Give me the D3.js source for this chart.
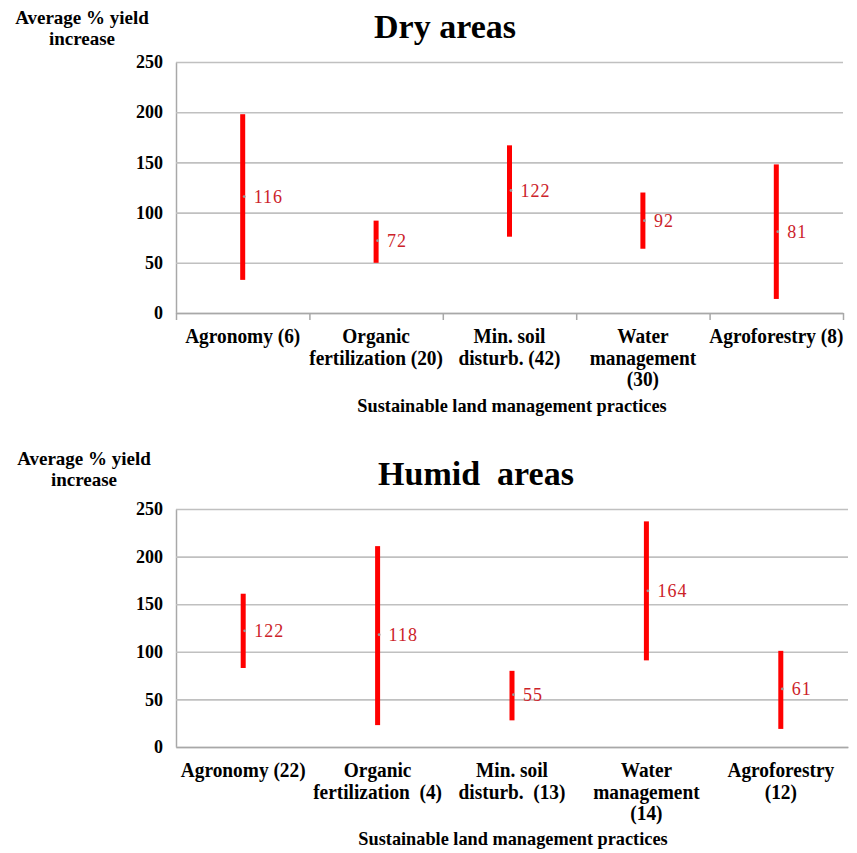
<!DOCTYPE html>
<html>
<head>
<meta charset="utf-8">
<script src="https://cdn.jsdelivr.net/npm/d3@7"></script>
<style>
  html, body { margin: 0; padding: 0; background: #ffffff; }
  svg { display: block; }
  text { font-family: "Liberation Serif", "Times New Roman", serif; }
</style>
</head>
<body>
<svg id="chart" width="857" height="853"></svg>
<script>
// ---- Data ----
const dryCategories = [
  ["Agronomy (6)"],
  ["Organic", "fertilization (20)"],
  ["Min. soil", "disturb. (42)"],
  ["Water", "management", "(30)"],
  ["Agroforestry (8)"]
];
const dryLow  = [33, 50, 76, 64, 14];
const dryHigh = [198, 92, 167, 120, 148];
const dryMean = [116, 72, 122, 92, 81];

const humidCategories = [
  ["Agronomy (22)"],
  ["Organic", "fertilization  (4)"],
  ["Min. soil", "disturb.  (13)"],
  ["Water", "management", "(14)"],
  ["Agroforestry", "(12)"]
];
const humidLow  = [83, 23, 28, 91, 19];
const humidHigh = [161, 211, 80, 237, 101];
const humidMean = [122, 118, 55, 164, 61];

const yTicks = [0, 50, 100, 150, 200, 250];
const yTitleLines = ["Average % yield", "increase"];
const xTitle = "Sustainable land management practices";

// ---- Drawing ----
const svg = d3.select("#chart");

function drawPanel(opt) {
  const g = svg.append("g");
  const n = opt.categories.length;
  const x = d3.scaleBand().domain(d3.range(n)).range([opt.left, opt.right]).padding(0);
  const xb = d3.scaleLinear().domain([0, n]).range([opt.left, opt.right]);
  const y = d3.scaleLinear().domain([0, 250]).range([opt.bottom, opt.top]);

  // title
  g.append("text")
    .attr("x", opt.titleX).attr("y", opt.titleY)
    .attr("text-anchor", "middle")
    .attr("font-size", 34).attr("font-weight", "bold")
    .style("white-space", "pre")
    .attr("xml:space", "preserve")
    .text(opt.title);

  // y title
  g.append("g").selectAll("text").data(yTitleLines).join("text")
    .attr("x", opt.yTitleX)
    .attr("y", (d, i) => opt.yTitleY + i * 21)
    .attr("text-anchor", "middle")
    .attr("font-size", 19).attr("font-weight", "bold")
    .text(d => d);

  // y axis with gridlines
  const yAxis = g.append("g")
    .attr("transform", `translate(${opt.left},0)`)
    .call(d3.axisLeft(y).tickValues(yTicks).tickSize(-(opt.right - opt.left)).tickSizeOuter(0).tickPadding(13));
  yAxis.select(".domain").attr("stroke", "#a8a8a8").attr("stroke-width", 1.5);
  yAxis.selectAll(".tick line").attr("stroke", "#c0c0c0").attr("stroke-width", 1.6);
  yAxis.selectAll(".tick text")
    .attr("font-family", "Liberation Serif, serif")
    .attr("font-size", 18).attr("font-weight", "bold").attr("fill", "#000");

  // x axis
  const xAxis = g.append("g")
    .attr("transform", `translate(0,${opt.bottom})`)
    .call(d3.axisBottom(xb).ticks(n).tickFormat("").tickSize(opt.xTickSize).tickSizeOuter(0));
  xAxis.select(".domain").attr("stroke", "#a8a8a8").attr("stroke-width", 1.6);
  xAxis.selectAll(".tick line").attr("stroke", "#a8a8a8").attr("stroke-width", 1.5);

  // category labels (slightly tall, narrow lettering)
  const cat = g.append("g").selectAll("text").data(opt.categories).join("text")
    .attr("transform", (d, i) => `translate(${x(i) + x.bandwidth() / 2},${opt.bottom + 30}) scale(0.9,1)`)
    .attr("text-anchor", "middle")
    .attr("font-size", 21.5).attr("font-weight", "bold")
    .attr("xml:space", "preserve")
    .style("white-space", "pre");
  cat.each(function(lines) {
    d3.select(this).selectAll("tspan").data(lines).join("tspan")
      .attr("x", 0)
      .attr("y", (d, j) => j * 21.7)
      .text(d => d);
  });

  // x title
  g.append("text")
    .attr("x", opt.xTitleX).attr("y", opt.xTitleY)
    .attr("text-anchor", "middle")
    .attr("font-size", 18.3).attr("font-weight", "bold")
    .text(xTitle);

  const idx = d3.range(n);
  const cx = i => x(i) + x.bandwidth() / 2;

  // range bars
  g.append("g").selectAll("rect").data(idx).join("rect")
    .attr("x", i => cx(i) - 2.5)
    .attr("width", 5)
    .attr("y", i => y(opt.high[i]))
    .attr("height", i => y(opt.low[i]) - y(opt.high[i]))
    .attr("fill", "#ff0000");

  // mean markers
  g.append("g").selectAll("circle").data(idx).join("circle")
    .attr("cx", i => cx(i) + 1.5)
    .attr("cy", i => y(opt.mean[i]))
    .attr("r", 1.4)
    .attr("fill", "#9a9a9a");

  // mean labels
  g.append("g").selectAll("text").data(idx).join("text")
    .attr("x", i => cx(i) + 11)
    .attr("y", i => y(opt.mean[i]) + 6)
    .attr("font-size", 18)
    .attr("letter-spacing", 1)
    .attr("fill", "#cc2229")
    .text(i => opt.mean[i]);
}

drawPanel({
  title: "Dry areas", titleX: 445, titleY: 38,
  yTitleX: 82, yTitleY: 24,
  left: 176, right: 843, top: 62, bottom: 313,
  xTickSize: 7,
  categories: dryCategories, low: dryLow, high: dryHigh, mean: dryMean,
  xTitleX: 512, xTitleY: 412
});

drawPanel({
  title: "Humid  areas", titleX: 476, titleY: 485,
  yTitleX: 84, yTitleY: 465,
  left: 176, right: 848, top: 509, bottom: 747,
  xTickSize: 0,
  categories: humidCategories, low: humidLow, high: humidHigh, mean: humidMean,
  xTitleX: 513, xTitleY: 845
});
</script>
</body>
</html>
